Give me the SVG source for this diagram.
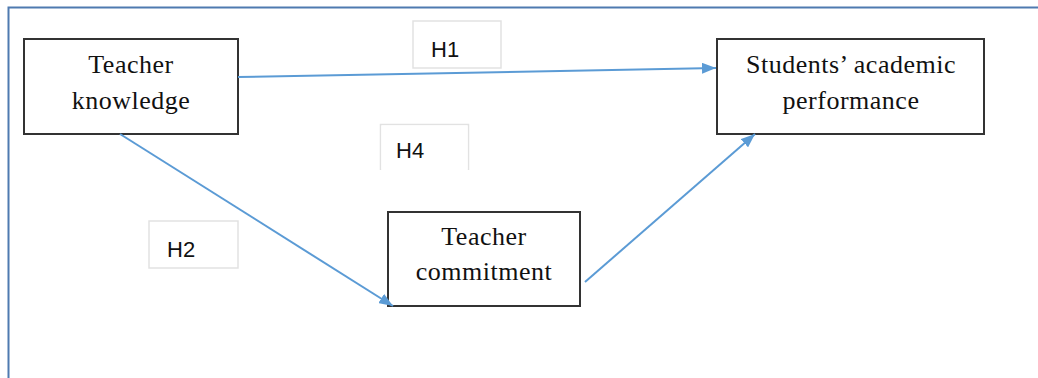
<svg xmlns="http://www.w3.org/2000/svg" width="1038" height="378" viewBox="0 0 1038 378">
<defs>
<style>
.frame{fill:none;stroke:#4f7ab0;stroke-width:2}
.node{fill:#fff;stroke:#333;stroke-width:2}
.lbl{fill:#fff;stroke:#e2e2e2;stroke-width:1.5}
.t{font-family:"Liberation Serif",serif;font-size:26px;letter-spacing:0.5px;fill:#111;text-anchor:middle}
.h{font-family:"Liberation Sans",Arial,sans-serif;font-size:22px;fill:#111}
.c{fill:none;stroke:#5b9bd5;stroke-width:2}
</style>
<marker id="ah" viewBox="0 0 14 11" refX="14" refY="5.5" markerWidth="14" markerHeight="11" markerUnits="userSpaceOnUse" orient="auto">
<path d="M0,0 L14,5.5 L0,11 z" fill="#5b9bd5"/>
</marker>
</defs>
<rect width="1038" height="378" fill="#fff"/>
<path class="frame" d="M8.5,378 V7.5 H1038"/>
<g id="label-h1"><rect class="lbl" x="413" y="21" width="88" height="47"/><text class="h" x="431" y="57">H1</text></g>
<g id="label-h4"><path class="lbl" d="M380.5,170 V124.5 H468.5 V170"/><rect x="381.5" y="125.5" width="86" height="44" fill="#fff"/><text class="h" x="396" y="158">H4</text></g>
<g id="label-h2"><rect class="lbl" x="149" y="221" width="89" height="47"/><text class="h" x="167" y="257">H2</text></g>
<g id="teacher-knowledge"><rect class="node" x="24" y="39" width="214" height="95"/><text class="t" x="131" y="73">Teacher</text><text class="t" x="131" y="109">knowledge</text></g>
<g id="students-performance"><rect class="node" x="717" y="39" width="267" height="95"/><text class="t" x="851" y="73">Students’ academic</text><text class="t" x="851" y="109">performance</text></g>
<g id="teacher-commitment"><rect class="node" x="388" y="212" width="192" height="94"/><text class="t" x="484" y="245">Teacher</text><text class="t" x="484" y="280">commitment</text></g>
<g id="connectors">
<line class="c" x1="238" y1="77" x2="716" y2="68" marker-end="url(#ah)"/>
<line class="c" x1="120" y1="134" x2="393" y2="306" marker-end="url(#ah)"/>
<line class="c" x1="585" y1="282" x2="755" y2="134" marker-end="url(#ah)"/>
</g>
</svg>
